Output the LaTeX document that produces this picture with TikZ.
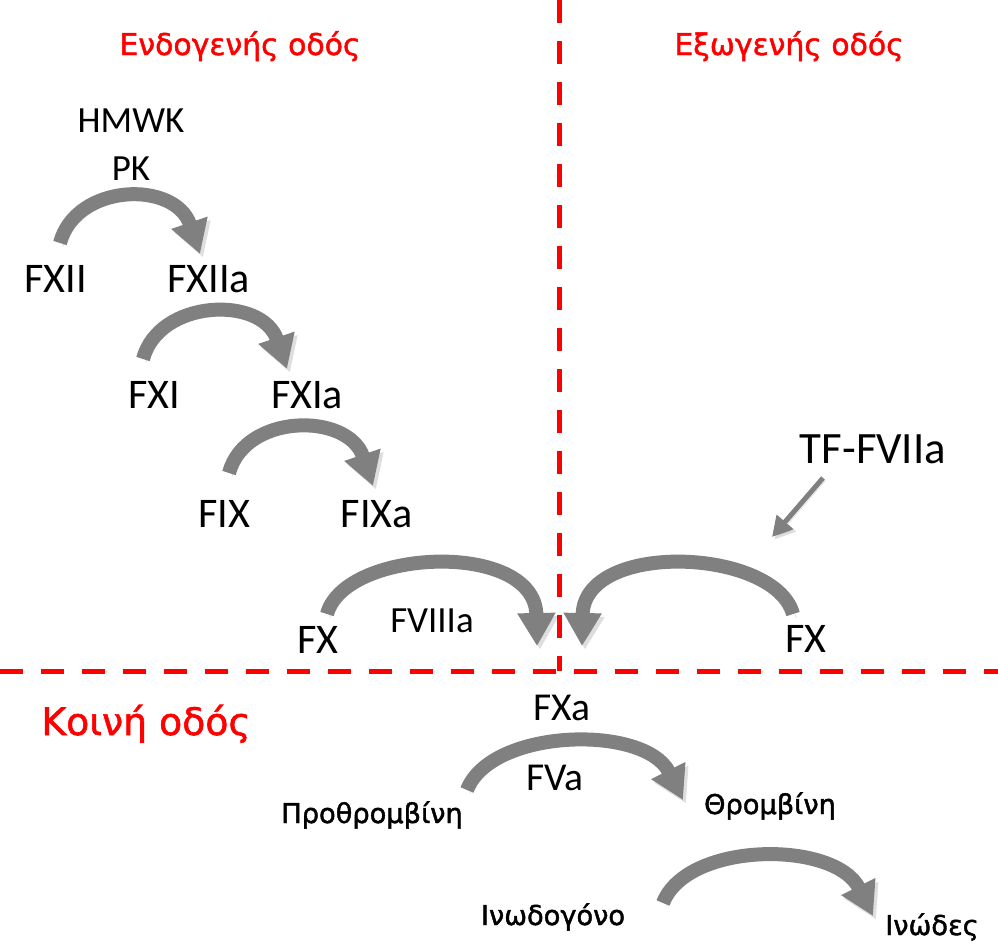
\documentclass[tikz,border=0pt]{standalone}
\usepackage{fontspec}
\setmainfont{Carlito}
\newfontfamily\grk[FakeBold=1.6]{DejaVu Sans}
\usetikzlibrary{arrows.meta}
\definecolor{arrowgray}{RGB}{128,128,128}
\definecolor{pathred}{RGB}{255,0,0}
\tikzset{
  lab/.style={anchor=base, inner sep=0pt, font=\fontsize{24}{28}\selectfont},
  midlab/.style={anchor=base, inner sep=0pt, font=\fontsize{21}{25}\selectfont},
  title/.style={anchor=base, inner sep=0pt, text=pathred, font=\grk\fontsize{17}{20}\selectfont},
  product/.style={anchor=base, inner sep=0pt, font=\grk\fontsize{15.5}{18}\selectfont},
  divider/.style={draw=pathred, line width=0.1cm, dash pattern=on 0.46cm off 0.36cm},
  flow/.style={draw=arrowgray, line width=0.28cm, -{Triangle[length=0.66cm,width=0.72cm]},
    preaction={draw=black, opacity=0.13, transform canvas={shift={(0.06cm,-0.07cm)}}}},
  thinflow/.style={draw=arrowgray, line width=0.1cm, -{Triangle[length=0.4cm,width=0.42cm]},
    preaction={draw=black, opacity=0.13, transform canvas={shift={(0.05cm,-0.05cm)}}}}
}
\begin{document}
\begin{tikzpicture}[x=0.02cm,y=-0.02cm]
\useasboundingbox (0,0) rectangle (998,947);

% dividing lines between the pathways
\coordinate (vtop) at (559,0);
\coordinate (cross) at (559,671);
\coordinate (hleft) at (0,671);
\coordinate (hright) at (998,671);
\draw[divider] (vtop) -- (cross);
\draw[divider] (hleft) -- (hright);

% section titles
\node[title] (intr) at (240,55) {Ενδογενής οδός};
\node[title] (extr) at (789,55) {Εξωγενής οδός};
\node[title, font=\grk\fontsize{21.5}{25}\selectfont] (comm) at (146,735) {Κοινή οδός};

% intrinsic cascade
\node[midlab] (hmwk) at (131,132) {HMWK};
\node[midlab] (pk) at (131,180) {PK};
\node[lab] (fxii) at (56,292) {FXII};
\node[lab] (fxiia) at (209,292) {FXIIa};
\node[lab] (fxi) at (154,408) {FXI};
\node[lab] (fxia) at (307,408) {FXIa};
\node[lab] (fix) at (224,527) {FIX};
\node[lab] (fixa) at (377,527) {FIXa};
\node[lab] (fxl) at (318,653) {FX};
\node[midlab] (fviiia) at (432,632) {FVIIIa};

% extrinsic side
\node[lab, font=\fontsize{25.5}{30}\selectfont] (tf) at (873,463) {TF-FVIIa};
\node[lab] (fxr) at (806,652) {FX};

% common pathway
\node[lab, font=\fontsize{22.5}{27}\selectfont] (fxa) at (562,720) {FXa};
\node[lab, font=\fontsize{22.5}{27}\selectfont] (fva) at (555,790) {FVa};
\node[product] (proth) at (372,823) {Προθρομβίνη};
\node[product] (thromb) at (770,814) {Θρομβίνη};
\node[product] (fibrinogen) at (553,925) {Ινωδογόνο};
\node[product] (fibrin) at (932,935) {Ινώδες};

% arrow end points
\coordinate (a1s) at (60,243);   \coordinate (a1e) at (200,254);
\coordinate (a2s) at (143,359);  \coordinate (a2e) at (287,369);
\coordinate (a3s) at (229,473);  \coordinate (a3e) at (373,486);
\coordinate (bls) at (327,614);  \coordinate (ble) at (537,646);
\coordinate (brs) at (793,614);  \coordinate (bre) at (582,646);
\coordinate (tfs) at (823,478);  \coordinate (tfe) at (772,537);
\coordinate (a4s) at (467,790);  \coordinate (a4e) at (683,800);
\coordinate (a5s) at (663,903);  \coordinate (a5e) at (873,916);

% activation arrows
\draw[flow] (a1s) .. controls +(16,-60) and +(-25,-74) .. (a1e);
\draw[flow] (a2s) .. controls +(16,-60) and +(-25,-74) .. (a2e);
\draw[flow] (a3s) .. controls +(16,-60) and +(-25,-74) .. (a3e);
\draw[flow] (bls) .. controls +(18,-66) and +(-2,-106) .. (ble);
\draw[flow] (brs) .. controls +(-18,-66) and +(2,-106) .. (bre);
\draw[thinflow] (tfs) -- (tfe);
\draw[flow] (a4s) .. controls +(24,-62) and +(-38,-76) .. (a4e);
\draw[flow] (a5s) .. controls +(24,-62) and +(-38,-76) .. (a5e);
\end{tikzpicture}
\end{document}
